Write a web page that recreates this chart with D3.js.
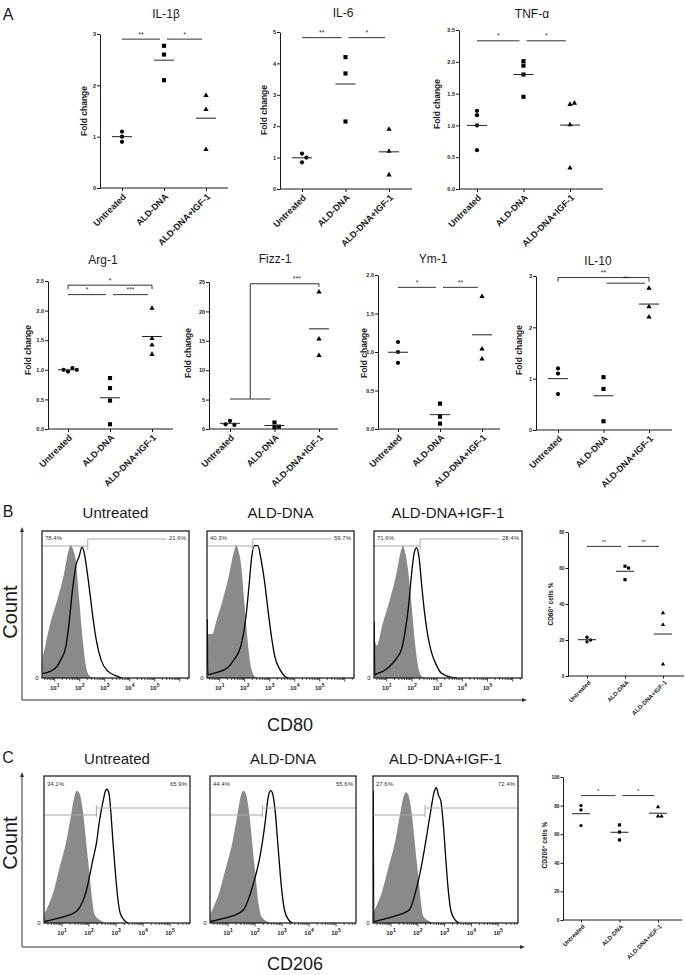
<!DOCTYPE html>
<html><head><meta charset="utf-8">
<script src="https://cdn.jsdelivr.net/npm/d3@7"></script>
<style>body{margin:0;background:#fff}svg{display:block}</style>
</head><body><svg id="c" width="685" height="975"></svg>
<script>
const groups = ["Untreated", "ALD-DNA", "ALD-DNA+IGF-1"];

// ---- Panel A: fold change per group (Untreated, ALD-DNA, ALD-DNA+IGF-1)
const il1b  = [[1.10, 1.00, 0.90], [2.77, 2.60, 2.10], [1.80, 1.53, 0.75]];
const il6   = [[1.13, 0.85, 1.00], [4.20, 3.68, 2.15], [1.90, 1.20, 0.45]];
const tnfa  = [[1.23, 1.16, 1.00, 0.61], [2.01, 1.94, 1.80, 1.45], [1.33, 1.35, 1.01, 0.33]];
const arg1  = [[0.97, 1.03, 1.00, 1.00], [0.86, 0.69, 0.48, 0.08], [2.04, 1.53, 1.42, 1.26]];
const fizz1 = [[1.40, 0.70, 0.80], [1.10, 0.30, 0.40], [23.3, 15.3, 12.5]];
const ym1   = [[1.13, 1.00, 0.86], [0.33, 0.16, 0.07], [1.72, 1.04, 0.91]];
const il10  = [[1.20, 1.10, 0.70], [1.03, 0.80, 0.17], [2.76, 2.40, 2.20]];
// ---- Panels B/C: % positive cells
const cd80Pct  = [[21.5, 19.0, 20.0], [61.0, 60.0, 53.5], [35.0, 28.5, 6.5]];
const cd206Pct = [[80.0, 77.0, 66.0], [66.5, 61.5, 56.0], [72.5, 72.5, 79.0]];

// ---- tick values
const ticksIL1b = [0, 1, 2, 3];
const ticksIL6 = [0, 1, 2, 3, 4, 5];
const ticksTNF = [0, 0.5, 1, 1.5, 2, 2.5];
const ticksArg = [0, 0.5, 1, 1.5, 2, 2.5];
const ticksFizz = [0, 5, 10, 15, 20, 25];
const ticksYm = [0, 0.5, 1, 1.5, 2];
const ticksIL10 = [0, 1, 2, 3];
const ticksCD80 = [0, 20, 40, 60, 80];
const ticksCD206 = [0, 20, 40, 60, 80, 100];

// ---- significance: [fromGroup, toGroup, value, label, kind]
const sigIL1b = [[0, 1, 2.9, "**", "line"], [1, 2, 2.9, "*", "line"]];
const sigIL6 = [[0, 1, 4.82, "**", "line"], [1, 2, 4.82, "*", "line"]];
const sigTNF = [[0, 1, 2.33, "*", "line"], [1, 2, 2.33, "*", "line"]];
const sigArg = [[0, 1, 2.27, "*", "line"], [1, 2, 2.27, "***", "line"], [0, 2, 2.43, "*", "bracket"]];
const sigFizz = [[0, 1, 5.1, "", "line"], [1, 2, 24.7, "***", "join"]];
const sigYm = [[0, 1, 1.84, "*", "line"], [1, 2, 1.84, "**", "line"]];
const sigIL10 = [[1, 2, 2.86, "**", "line"], [0, 2, 2.97, "**", "bracket"]];
const sigCD80 = [[0, 1, 72, "**", "line"], [1, 2, 72, "**", "line"]];
const sigCD206 = [[0, 1, 87, "*", "line"], [1, 2, 87, "*", "line"]];

// ---- flow histograms: [log10 fluorescence, normalized count]
const cd80Gray = [
  [[0.5,0],[0.51,0.12],[0.6,0.2],[0.82,0.37],[1.1,0.53],[1.37,0.71],[1.57,0.88],[1.64,0.905],[1.72,0.88],[1.84,0.8],[1.98,0.53],[2.12,0.26],[2.25,0.08],[2.39,0.015],[2.55,0]],
  [[0.5,0],[0.51,0.3],[0.7,0.3],[0.85,0.38],[1.1,0.52],[1.37,0.7],[1.57,0.86],[1.66,0.905],[1.74,0.87],[1.86,0.76],[1.98,0.52],[2.1,0.28],[2.22,0.1],[2.36,0.02],[2.5,0]],
  [[0.5,0],[0.51,0.25],[0.6,0.22],[0.82,0.36],[1.1,0.52],[1.37,0.7],[1.57,0.87],[1.64,0.9],[1.72,0.86],[1.84,0.74],[1.98,0.5],[2.12,0.24],[2.25,0.07],[2.4,0.01],[2.55,0]]
];
const cd80Black = [
  [[0.5,0.03],[0.82,0.045],[1.1,0.08],[1.23,0.12],[1.44,0.21],[1.57,0.37],[1.71,0.6],[1.84,0.76],[1.98,0.83],[2.09,0.89],[2.18,0.85],[2.29,0.73],[2.39,0.6],[2.52,0.42],[2.66,0.26],[2.86,0.12],[3.13,0.045],[3.54,0.01],[3.7,0]],
  [[0.5,0.4],[0.52,0.023],[0.89,0.039],[1.3,0.068],[1.57,0.124],[1.84,0.215],[2.05,0.42],[2.18,0.645],[2.28,0.826],[2.39,0.9],[2.53,0.9],[2.63,0.826],[2.8,0.645],[2.93,0.462],[3.07,0.28],[3.2,0.147],[3.41,0.057],[3.61,0.011],[3.75,0]],
  [[0.5,0.38],[0.52,0.02],[0.58,0.027],[0.85,0.046],[1.12,0.08],[1.4,0.137],[1.6,0.205],[1.73,0.32],[1.87,0.5],[1.97,0.685],[2.08,0.845],[2.18,0.886],[2.28,0.82],[2.38,0.64],[2.49,0.457],[2.62,0.297],[2.76,0.183],[2.96,0.091],[3.16,0.034],[3.57,0.005],[3.78,0]]
];
const cd206Gray = [
  [[0.33,0],[0.35,0.06],[0.42,0.09],[0.66,0.2],[0.91,0.38],[1.16,0.56],[1.34,0.74],[1.47,0.87],[1.55,0.9],[1.65,0.88],[1.75,0.79],[1.84,0.65],[1.92,0.5],[2.02,0.33],[2.12,0.15],[2.2,0.06],[2.4,0.02],[2.6,0]],
  [[0.33,0],[0.35,0.06],[0.42,0.09],[0.66,0.2],[0.91,0.37],[1.16,0.55],[1.34,0.73],[1.48,0.87],[1.57,0.9],[1.66,0.88],[1.76,0.78],[1.85,0.63],[1.93,0.48],[2.03,0.3],[2.13,0.13],[2.22,0.05],[2.4,0.015],[2.6,0]],
  [[0.33,0],[0.35,0.07],[0.42,0.1],[0.66,0.21],[0.91,0.38],[1.16,0.56],[1.34,0.74],[1.47,0.86],[1.56,0.89],[1.65,0.87],[1.75,0.78],[1.84,0.64],[1.92,0.49],[2.02,0.32],[2.12,0.14],[2.2,0.05],[2.4,0.015],[2.6,0]]
];
const cd206Black = [
  [[0.35,0.01],[0.8,0.03],[1.2,0.05],[1.45,0.07],[1.59,0.09],[1.9,0.22],[2.14,0.43],[2.27,0.54],[2.39,0.7],[2.52,0.83],[2.61,0.9],[2.66,0.91],[2.74,0.88],[2.8,0.77],[2.89,0.54],[2.99,0.31],[3.07,0.16],[3.15,0.07],[3.3,0.02],[3.45,0]],
  [[0.35,0.01],[0.8,0.03],[1.2,0.05],[1.57,0.09],[1.94,0.27],[2.18,0.45],[2.37,0.68],[2.49,0.86],[2.58,0.9],[2.65,0.88],[2.74,0.77],[2.86,0.5],[2.99,0.22],[3.1,0.08],[3.25,0.02],[3.4,0]],
  [[0.34,0.9],[0.36,0.01],[0.8,0.03],[1.2,0.05],[1.69,0.09],[1.93,0.22],[2.18,0.43],[2.33,0.59],[2.49,0.77],[2.61,0.89],[2.7,0.92],[2.77,0.87],[2.86,0.83],[2.95,0.68],[3.04,0.45],[3.14,0.22],[3.24,0.08],[3.4,0.02],[3.55,0]]
];
const cd80Gate = 2.32, cd206Gate = 2.27;
const cd80LeftPct = ["78.4%", "40.3%", "71.6%"];
const cd80RightPct = ["21.6%", "59.7%", "28.4%"];
const cd206LeftPct = ["34.1%", "44.4%", "27.6%"];
const cd206RightPct = ["65.9%", "55.6%", "72.4%"];
const histTitles = ["Untreated", "ALD-DNA", "ALD-DNA+IGF-1"];
const decadeLabels = [1, 2, 3, 4, 5];

// =====================================================================
const FONT = '"Liberation Sans", Arial, Helvetica, sans-serif';
const svg = d3.select('#c').attr('font-family', FONT);
const INK = '#1a1a1a';

function txt(g, x, y, s, fs, opt = {}) {
  return g.append('text').attr('x', x).attr('y', y).text(s)
    .attr('font-size', fs).attr('fill', opt.fill || INK)
    .attr('font-weight', opt.bold ? 'bold' : 'normal')
    .attr('text-anchor', opt.anchor || 'middle');
}

function swarm(vals, y, thr, d) {
  const placed = [];
  return vals.map(v => {
    const py = y(v);
    for (const o of [0, d, -d, 2 * d, -2 * d, 3 * d]) {
      if (placed.every(p => Math.hypot(p.o - o, p.py - py) >= thr)) {
        placed.push({ o, py }); return { v, o };
      }
    }
    return { v, o: 0 };
  });
}

const symTypes = [d3.symbolCircle, d3.symbolSquare, d3.symbolTriangle];

function dotPlot(c) {
  const g = svg.append('g');
  const y = d3.scaleLinear().domain([0, c.max]).range([c.yBot, c.yTop]);
  const x = d3.scalePoint().domain(groups).range([c.c0, c.c1]);
  // y axis
  g.append('g').attr('transform', `translate(${c.ax},0)`)
    .call(d3.axisLeft(y).tickValues(c.ticks).tickSize(c.tk).tickSizeOuter(0).tickFormat(c.fmt))
    .call(a => {
      a.attr('font-family', null).attr('font-size', null);
      a.select('.domain').attr('stroke', INK);
      a.selectAll('.tick line').attr('stroke', INK);
      a.selectAll('.tick text').attr('x', -c.tk - 1).attr('font-size', c.tfs)
        .attr('font-weight', 'bold').attr('fill', INK);
    });
  // x axis
  g.append('line').attr('x1', c.ax).attr('x2', c.axEnd).attr('y1', c.yBot).attr('y2', c.yBot)
    .attr('stroke', INK);
  g.append('g').attr('transform', `translate(0,${c.yBot})`)
    .call(d3.axisBottom(x).tickSize(c.tk).tickSizeOuter(0))
    .call(a => {
      a.attr('font-family', null).attr('font-size', null);
      a.select('.domain').remove();
      a.selectAll('.tick line').attr('stroke', INK);
      a.selectAll('.tick text').attr('x', 0).attr('y', 0).attr('dy', '0.35em')
        .attr('transform', `translate(${c.lblDx},${c.lblDy}) rotate(-45)`)
        .attr('text-anchor', 'end').attr('font-size', c.xfs).attr('font-weight', 'bold').attr('fill', INK);
    });
  // title
  if (c.title) txt(g, c.tx, c.ty, c.title, 12);
  // y label
  const yl = g.append('text').attr('transform', `translate(${c.lx},${c.ly}) rotate(-90)`)
    .attr('text-anchor', 'middle').attr('dy', '0.35em').attr('font-size', c.yfs)
    .attr('font-weight', 'bold').attr('fill', INK);
  if (c.ylabel.length === 1) yl.text(c.ylabel[0]);
  else {
    yl.append('tspan').text(c.ylabel[0]);
    yl.append('tspan').text(c.ylabel[1]).attr('baseline-shift', 'super').attr('font-size', c.yfs * 0.7);
    yl.append('tspan').text(c.ylabel[2]);
  }
  // points
  c.data.forEach((vals, gi) => {
    const sw = swarm(vals, y, c.thr, c.nudge);
    const sym = d3.symbol().type(symTypes[gi]).size(c.sizes[gi]);
    g.selectAll(null).data(sw).join('path')
      .attr('d', sym)
      .attr('transform', d => `translate(${x(groups[gi]) + d.o},${y(d.v)})`)
      .attr('fill', '#000');
    const m = d3.mean(vals);
    g.append('line').attr('x1', x(groups[gi]) - c.mw).attr('x2', x(groups[gi]) + c.mw)
      .attr('y1', y(m)).attr('y2', y(m)).attr('stroke', '#222').attr('stroke-width', 1);
  });
  // significance
  c.sig.forEach(s => {
    const [a, b, v, lab, kind] = s;
    const xa = x(groups[a]), xb = x(groups[b]), yy = y(v);
    let mid;
    if (kind === 'line') {
      const x1 = xa + (a === 0 ? 0 : 3), x2 = xb - 4;
      g.append('line').attr('x1', x1).attr('x2', x2).attr('y1', yy).attr('y2', yy)
        .attr('stroke', '#333').attr('stroke-width', 1);
      mid = (x1 + x2) / 2;
    } else if (kind === 'bracket') {
      g.append('path').attr('d', `M${xa},${yy + 4}V${yy}H${xb}V${yy + 4}`)
        .attr('fill', 'none').attr('stroke', '#333').attr('stroke-width', 1);
      mid = (xa + xb) / 2;
    } else if (kind === 'join') {
      const prev = c.sig[0];
      const p1 = x(groups[prev[0]]), p2 = x(groups[prev[1]]) - 4;
      const xm = (p1 + p2) / 2;
      g.append('path').attr('d', `M${xm},${y(prev[2])}V${yy}H${xb}V${yy + 3}`)
        .attr('fill', 'none').attr('stroke', '#333').attr('stroke-width', 1);
      mid = (xa + xb) / 2;
    }
    if (lab) txt(g, mid, yy - 2.5, lab, c.sfs, { fill: '#333' });
  });
}

const common = { tk: 3, tfs: 5.5, xfs: 9, yfs: 8.5, sfs: 7, thr: 4.3, nudge: 4.4, mw: 10, sizes: [14, 17, 12], lblDx: 2, lblDy: 7, ylabel: ["Fold change"] };
const f1 = d3.format('d'), f2 = d3.format('.1f');
[
  { title: "IL-1β", tx: 166, ty: 18, data: il1b, ticks: ticksIL1b, fmt: f1, max: 3, ax: 100, axEnd: 228, c0: 122, c1: 206, yTop: 34, yBot: 188, lx: 84, ly: 111, sig: sigIL1b },
  { title: "IL-6", tx: 343, ty: 17, data: il6, ticks: ticksIL6, fmt: f1, max: 5, ax: 280, axEnd: 412, c0: 302, c1: 389, yTop: 32, yBot: 189, lx: 264, ly: 110, sig: sigIL6 },
  { title: "TNF-α", tx: 532, ty: 18, data: tnfa, ticks: ticksTNF, fmt: f2, max: 2.5, ax: 459, axEnd: 603, c0: 477, c1: 570, yTop: 30, yBot: 189, lx: 437, ly: 104, sig: sigTNF },
  { title: "Arg-1", tx: 103, ty: 264, data: arg1, ticks: ticksArg, fmt: f2, max: 2.5, ax: 48, axEnd: 173, c0: 68, c1: 152, yTop: 281, yBot: 429, lx: 28, ly: 350, sig: sigArg },
  { title: "Fizz-1", tx: 275, ty: 263, data: fizz1, ticks: ticksFizz, fmt: f1, max: 25, ax: 209, axEnd: 338, c0: 230, c1: 319, yTop: 282, yBot: 429, lx: 188, ly: 353, sig: sigFizz },
  { title: "Ym-1", tx: 433, ty: 263, data: ym1, ticks: ticksYm, fmt: f2, max: 2, ax: 378, axEnd: 500, c0: 398, c1: 482, yTop: 275, yBot: 429, lx: 364, ly: 353, sig: sigYm },
  { title: "IL-10", tx: 598, ty: 265, data: il10, ticks: ticksIL10, fmt: f1, max: 3, ax: 536, axEnd: 672, c0: 558, c1: 649, yTop: 276, yBot: 430, lx: 519, ly: 350, sig: sigIL10 }
].forEach(c => dotPlot(Object.assign({}, common, c)));

const smallCommon = { tk: 2.5, tfs: 4.8, xfs: 6, yfs: 6.5, sfs: 6, thr: 3.3, nudge: 3.6, mw: 9, sizes: [9, 10, 8], lblDx: 2, lblDy: 5.5 };
dotPlot(Object.assign({}, smallCommon, { data: cd80Pct, ticks: ticksCD80, fmt: f1, max: 80, ax: 568, axEnd: 684, c0: 587, c1: 663, yTop: 532, yBot: 676, lx: 551, ly: 604, sig: sigCD80, ylabel: ["CD80", "+", " cells %"] }));
dotPlot(Object.assign({}, smallCommon, { data: cd206Pct, ticks: ticksCD206, fmt: f1, max: 100, ax: 563, axEnd: 682, c0: 581, c1: 658, yTop: 777, yBot: 920, lx: 545, ly: 845, sig: sigCD206, ylabel: ["CD206", "+", " cells %"] }));

// ---- flow histogram rows
let clipId = 0;
function histRow(c) {
  const g = svg.append('g');
  c.boxes.forEach((bx, i) => {
    const x = d3.scaleLinear().domain(c.dom).range(bx);
    const y = d3.scaleLinear().domain([0, 1]).range([c.bot, c.top]);
    const id = 'clip' + (clipId++);
    svg.append('clipPath').attr('id', id).append('rect')
      .attr('x', bx[0]).attr('y', c.top).attr('width', bx[1] - bx[0]).attr('height', c.bot - c.top);
    const inner = g.append('g').attr('clip-path', `url(#${id})`);
    inner.append('path').datum(c.gray[i])
      .attr('d', d3.area().x(d => x(d[0])).y0(c.bot).y1(d => y(d[1])).curve(d3.curveMonotoneX))
      .attr('fill', '#8a8a8a');
    inner.append('path').datum(c.black[i])
      .attr('d', d3.line().x(d => x(d[0])).y(d => y(d[1])).curve(d3.curveMonotoneX))
      .attr('fill', 'none').attr('stroke', '#000').attr('stroke-width', 1.3);
    // gate
    const gx = x(c.gate);
    const gl = c.gateStyle;
    g.append('line').attr('x1', bx[0]).attr('x2', gx).attr('y1', c.top + gl.left).attr('y2', c.top + gl.left)
      .attr('stroke', '#a8a8a8').attr('stroke-width', 1);
    g.append('line').attr('x1', gx).attr('x2', bx[1] - gl.rightGap).attr('y1', c.top + gl.right).attr('y2', c.top + gl.right)
      .attr('stroke', '#a8a8a8').attr('stroke-width', 1);
    g.append('line').attr('x1', gx).attr('x2', gx).attr('y1', c.top + gl.t0).attr('y2', c.top + gl.t1)
      .attr('stroke', '#a8a8a8').attr('stroke-width', 1);
    txt(g, bx[0] + 3, c.top + gl.lab, c.leftPct[i], 6, { anchor: 'start', fill: '#333' });
    txt(g, bx[1] - 3, c.top + gl.lab, c.rightPct[i], 6, { anchor: 'end', fill: '#333' });
    // box
    g.append('rect').attr('x', bx[0]).attr('y', c.top).attr('width', bx[1] - bx[0]).attr('height', c.bot - c.top)
      .attr('fill', 'none').attr('stroke', '#111').attr('stroke-width', 1.2);
    // ticks
    const lo = c.dom[0], hi = c.dom[1];
    for (let k = 0; k <= 6; k++) {
      for (let m = 1; m <= 9; m++) {
        const v = k + Math.log10(m);
        if (v < lo || v > hi) continue;
        const len = m === 1 ? 3.5 : 2;
        g.append('line').attr('x1', x(v)).attr('x2', x(v)).attr('y1', c.bot).attr('y2', c.bot + len)
          .attr('stroke', '#222').attr('stroke-width', 0.8);
      }
    }
    decadeLabels.forEach(k => {
      const t = g.append('text').attr('x', x(k)).attr('y', c.bot + 12).attr('text-anchor', 'middle')
        .attr('font-size', 6).attr('font-weight', 'bold').attr('fill', '#222');
      t.append('tspan').text('10');
      t.append('tspan').text(k).attr('font-size', 5).attr('dy', -3.5);
    });
    txt(g, bx[0] - 5, c.bot + 2, '0', 6, { fill: '#222' });
    txt(g, (bx[0] + bx[1]) / 2, c.titleY, histTitles[i], 15);
  });
  // arrows
  const ax = 22;
  g.append('line').attr('x1', ax).attr('x2', ax).attr('y1', c.arrowY).attr('y2', c.top - 1)
    .attr('stroke', '#333').attr('stroke-width', 1);
  g.append('path').attr('d', `M${ax},${c.top - 4}l-2,5h4z`).attr('fill', '#333');
  g.append('line').attr('x1', ax).attr('x2', c.arrowEnd).attr('y1', c.arrowY).attr('y2', c.arrowY)
    .attr('stroke', '#333').attr('stroke-width', 1);
  g.append('path').attr('d', `M${c.arrowEnd + 3},${c.arrowY}l-5,-2v4z`).attr('fill', '#333');
  g.append('text').attr('transform', `translate(17,${c.countY}) rotate(-90)`).attr('text-anchor', 'middle')
    .attr('font-size', 20).attr('fill', INK).text('Count');
  txt(g, c.axLabelX, c.axLabelY, c.axLabel, 18);
  txt(g, 8, c.letterY, c.letter, 16);
}

histRow({ letter: 'B', letterY: 517, top: 531, bot: 678, boxes: [[42, 189], [207, 354], [374, 522]], dom: [0.49, 6.37],
  gray: cd80Gray, black: cd80Black, gate: cd80Gate, leftPct: cd80LeftPct, rightPct: cd80RightPct,
  gateStyle: { left: 15, right: 8, t0: 8, t1: 19, lab: 9, rightGap: 23 }, titleY: 518,
  arrowY: 700, arrowEnd: 524, countY: 612, axLabel: 'CD80', axLabelX: 290, axLabelY: 731 });
histRow({ letter: 'C', letterY: 763, top: 776, bot: 923, boxes: [[44, 190], [210, 356], [373, 518]], dom: [0.33, 5.74],
  gray: cd206Gray, black: cd206Black, gate: cd206Gate, leftPct: cd206LeftPct, rightPct: cd206RightPct,
  gateStyle: { left: 39, right: 32, t0: 29, t1: 41, lab: 10, rightGap: 0 }, titleY: 764,
  arrowY: 947, arrowEnd: 522, countY: 843, axLabel: 'CD206', axLabelX: 295, axLabelY: 970 });

txt(svg, 8, 20, 'A', 16);
</script></body></html>
